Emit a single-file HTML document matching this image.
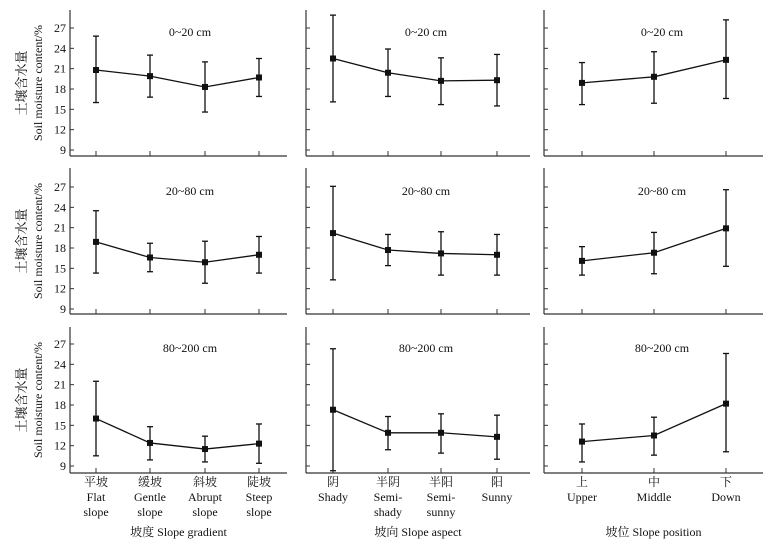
<!DOCTYPE html>
<html><head><meta charset="utf-8"><style>
body{margin:0;background:#fff}
svg text{font-family:"Liberation Serif","Noto Serif CJK SC",serif;fill:#111}
</style></head><body>
<svg width="769" height="547" viewBox="0 0 769 547">
<g id="root"></g>
</svg>
<script>
const depthLabels=["0~20 cm","20~80 cm","80~200 cm"];
const yTicks=[9,12,15,18,21,24,27];
const gradientCats=[["平坡","Flat","slope"],["缓坡","Gentle","slope"],["斜坡","Abrupt","slope"],["陡坡","Steep","slope"]];
const aspectCats=[["阴","Shady"],["半阴","Semi-","shady"],["半阳","Semi-","sunny"],["阳","Sunny"]];
const positionCats=[["上","Upper"],["中","Middle"],["下","Down"]];
const axisTitles=["坡度 Slope gradient","坡向 Slope aspect","坡位 Slope position"];
const gradMean=[[20.8,19.9,18.3,19.7],[18.9,16.6,15.9,17.0],[16.0,12.4,11.5,12.3]];
const gradLow=[[16.0,16.8,14.6,16.9],[14.3,14.5,12.8,14.3],[10.5,9.9,9.6,9.4]];
const gradHigh=[[25.8,23.0,22.0,22.5],[23.5,18.7,19.0,19.7],[21.5,14.8,13.4,15.2]];
const aspMean=[[22.5,20.4,19.2,19.3],[20.2,17.7,17.2,17.0],[17.3,13.9,13.9,13.3]];
const aspLow=[[16.1,16.9,15.7,15.5],[13.3,15.4,14.0,14.0],[8.3,11.4,10.9,10.0]];
const aspHigh=[[28.9,23.9,22.6,23.1],[27.1,20.0,20.4,20.0],[26.3,16.3,16.7,16.5]];
const posMean=[[18.9,19.8,22.3],[16.1,17.3,20.9],[12.6,13.5,18.2]];
const posLow=[[15.7,15.9,16.6],[14.0,14.2,15.3],[9.6,10.6,11.1]];
const posHigh=[[21.9,23.5,28.2],[18.2,20.3,26.6],[15.2,16.2,25.6]];

const NS="http://www.w3.org/2000/svg";
const root=document.getElementById('root');
function mk(t,a,p){const e=document.createElementNS(NS,t);for(const k in a)e.setAttribute(k,a[k]);(p||root).appendChild(e);return e;}
const cols=[
 {x0:70,x1:287,xs:[96,150,205,259],cats:gradientCats,m:gradMean,l:gradLow,h:gradHigh,lx:190},
 {x0:306,x1:530,xs:[333,388,441,497],cats:aspectCats,m:aspMean,l:aspLow,h:aspHigh,lx:426},
 {x0:544,x1:763,xs:[582,654,726],cats:positionCats,m:posMean,l:posLow,h:posHigh,lx:662}];
const rows=[{top:10,base:156,y27:28},{top:168,base:314,y27:187},{top:327,base:473,y27:344}];
const ppu=122/18;
rows.forEach((r,ri)=>{
 const Y=v=>r.y27+(27-v)*ppu;
 cols.forEach((c,ci)=>{
  const g=mk('g',{});
  
  
  mk('line',{x1:c.x0,y1:r.top,x2:c.x0,y2:r.base,stroke:'#333','stroke-width':1.2},g);
  mk('line',{x1:c.x0,y1:r.base,x2:c.x1,y2:r.base,stroke:'#333','stroke-width':1.2},g);
  yTicks.forEach(t=>{
   mk('line',{x1:c.x0,y1:Y(t),x2:c.x0+4,y2:Y(t),stroke:'#333'},g);
   if(ci==0){const tx=mk('text',{x:c.x0-4,y:Y(t)+4,'text-anchor':'end','font-size':12},g);tx.textContent=t;}
  });
  c.xs.forEach(x=>mk('line',{x1:x,y1:r.base,x2:x,y2:r.base-5,stroke:'#333'},g));
  const lb=mk('text',{x:c.lx,y:r.y27+8,'text-anchor':'middle','font-size':12},g);
  
  
  lb.textContent=depthLabels[ri];
  const m=c.m[ri],lo=c.l[ri],hi=c.h[ri];
  mk('polyline',{points:m.map((v,i)=>c.xs[i]+','+Y(v)).join(' '),fill:'none',stroke:'#111','stroke-width':1.3},g);
  m.forEach((v,i)=>{
   const x=c.xs[i];
   mk('line',{x1:x,y1:Y(lo[i]),x2:x,y2:Y(hi[i]),stroke:'#111','stroke-width':1.3},g);
   mk('line',{x1:x-3,y1:Y(lo[i]),x2:x+3,y2:Y(lo[i]),stroke:'#111','stroke-width':1.3},g);
   mk('line',{x1:x-3,y1:Y(hi[i]),x2:x+3,y2:Y(hi[i]),stroke:'#111','stroke-width':1.3},g);
   const p=mk('rect',{x:x-3,y:Y(v)-3,width:6,height:6,fill:'#111'},g);
   
   
  });
 });
 const yt=mk('text',{transform:'translate(26,'+(r.top+r.base)/2+') rotate(-90)','text-anchor':'middle','font-size':13});
 
 
 yt.textContent='土壤含水量';
 const yt2=mk('text',{transform:'translate(42,'+(r.top+r.base)/2+') rotate(-90)','text-anchor':'middle','font-size':12});
 
 
 yt2.textContent='Soil moisture content/%';
});
cols.forEach((c,ci)=>{
 c.cats.forEach((lines,i)=>{
  lines.forEach((s,j)=>{
   const t=mk('text',{x:c.xs[i],y:486+j*15,'text-anchor':'middle','font-size':12});
   
   
   t.textContent=s;
  });
 });
 const at=mk('text',{x:(c.x0+c.x1)/2,y:536,'text-anchor':'middle','font-size':12});
 
 
 at.textContent=axisTitles[ci];
});
</script>
</body></html>
